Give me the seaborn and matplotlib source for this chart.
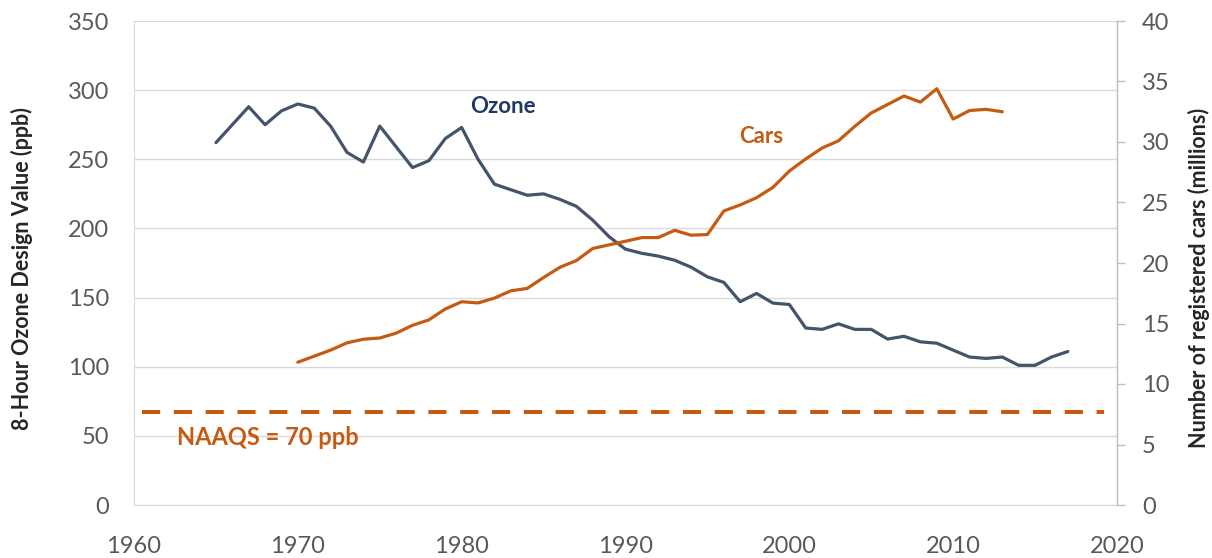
import pandas as pd
import matplotlib
matplotlib.use("Agg")
import matplotlib.pyplot as plt
import seaborn as sns

# ozone design value (ppb), 1965-2017
ozone_years = list(range(1965, 2018))
ozone_ppb = [262, 275, 288, 275, 285, 290, 287, 274, 255, 248, 274, 259, 244, 249, 265,
             273, 250, 232, 228, 224, 225, 221, 216, 206, 194, 185, 182, 180, 177, 172,
             165, 161, 147, 153, 146, 145, 128, 127, 131, 127, 127, 120, 122, 118, 117,
             112, 107, 106, 107, 101, 101, 107, 111]

# registered cars (millions), 1970-2013
car_years = list(range(1970, 2014))
cars_millions = [11.8, 12.3, 12.8, 13.4, 13.7, 13.8, 14.2, 14.85, 15.3, 16.2, 16.8, 16.7,
                 17.1, 17.7, 17.9, 18.8, 19.65, 20.2, 21.2, 21.5, 21.8, 22.1, 22.1, 22.7,
                 22.3, 22.35, 24.3, 24.8, 25.4, 26.25, 27.6, 28.6, 29.5, 30.1, 31.3, 32.4,
                 33.1, 33.8, 33.3, 34.4, 31.9, 32.6, 32.7, 32.5]

naaqs_level = 67  # where the dashed standard line sits on the ppb axis
naaqs_span = [1960.5, 2019.2]

ozone_df = pd.DataFrame({"Year": ozone_years, "Ozone": ozone_ppb})
cars_df = pd.DataFrame({"Year": car_years, "Cars": cars_millions})

sns.set_style("white")
plt.rcParams['font.family'] = ['Lato', 'DejaVu Sans']

ozone_col = "#44546A"
cars_col = "#C55A11"
grid_col = "#D9D9D9"
tick_col = "#595959"

fig = plt.figure(figsize=(12.12, 5.58), dpi=100)
ax = fig.add_axes([134/1212, 1 - 505/558, 983/1212, 484/558])
ax2 = ax.twinx()

sns.lineplot(data=ozone_df, x="Year", y="Ozone", ax=ax, color=ozone_col, linewidth=2.3)
sns.lineplot(data=cars_df, x="Year", y="Cars", ax=ax2, color=cars_col, linewidth=2.3)
ax.plot(naaqs_span, [naaqs_level, naaqs_level], color=cars_col, linewidth=2.9,
        dashes=(4.5, 3.4), solid_capstyle="butt")

ax.set_xlim(1960, 2020)
ax.set_ylim(0, 350)
ax2.set_ylim(0, 40)
ax.set_xticks(range(1960, 2021, 10))
ax.set_yticks(range(0, 351, 50))
ax2.set_yticks(range(0, 41, 5))

ax.grid(axis="y", color=grid_col, linewidth=1)
ax.set_axisbelow(True)
for a in (ax, ax2):
    a.spines["top"].set_visible(False)
ax.spines["left"].set_color(grid_col)
ax.spines["bottom"].set_color(grid_col)
ax2.spines["left"].set_visible(False)
ax2.spines["bottom"].set_visible(False)
ax2.spines["right"].set_color("#BFBFBF")

ax.tick_params(axis="y", length=0, pad=18, labelsize=17, labelcolor=tick_col)
ax.tick_params(axis="x", length=0, pad=22, labelsize=17, labelcolor=tick_col)
ax2.tick_params(axis="y", length=6, width=1, color="#BFBFBF", pad=12, labelsize=17,
                labelcolor=tick_col)

ax.set_xlabel("")
ax.set_ylabel("8-Hour Ozone Design Value (ppb)", fontsize=15.5, fontweight="bold")
ax2.set_ylabel("Number of registered cars (millions)", fontsize=15.5, fontweight="bold")
ax.yaxis.set_label_coords(-0.103, 0.489)
ax2.yaxis.set_label_coords(1.0725, 0.47)

ax.text(1982.5, 283.4, "Ozone", color="#203864", fontsize=16, fontweight="bold",
        ha="center", va="baseline")
ax.text(1998.3, 261.7, "Cars", color=cars_col, fontsize=16, fontweight="bold",
        ha="center", va="baseline")
ax.text(1962.6, 43.4, "NAAQS = 70 ppb", color=cars_col, fontsize=17, fontweight="bold",
        ha="left", va="baseline")

fig.savefig("out.png", dpi=100)
